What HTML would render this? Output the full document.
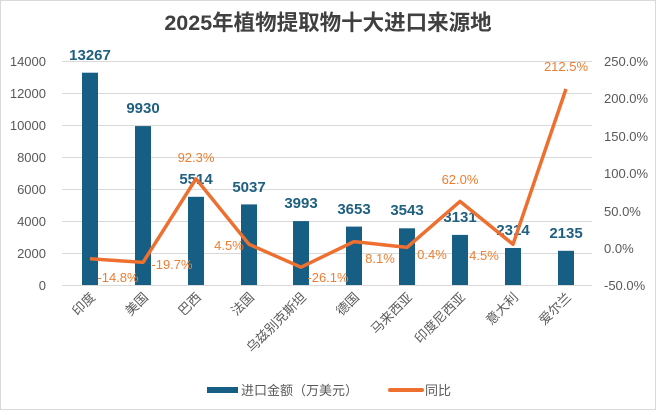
<!DOCTYPE html>
<html><head><meta charset="utf-8"><style>
html,body{margin:0;padding:0;background:#fff;}
svg text{font-family:"Liberation Sans","Noto Sans CJK SC",sans-serif;}
</style></head><body>
<svg width="656" height="410" viewBox="0 0 656 410" xmlns="http://www.w3.org/2000/svg">
<rect x="0.5" y="0.5" width="655" height="409" fill="#fff" stroke="#d9d9d9"/>
<text x="328" y="30" text-anchor="middle" font-size="21.5" font-weight="bold" fill="#404040">2025年植物提取物十大进口来源地</text>
<g stroke="#d9d9d9" stroke-width="1">
<line x1="62" x2="592" y1="61.5" y2="61.5"/><line x1="62" x2="592" y1="93.5" y2="93.5"/>
<line x1="62" x2="592" y1="125.5" y2="125.5"/><line x1="62" x2="592" y1="157.5" y2="157.5"/>
<line x1="62" x2="592" y1="189.5" y2="189.5"/><line x1="62" x2="592" y1="221.5" y2="221.5"/>
<line x1="62" x2="592" y1="253.5" y2="253.5"/><line x1="62" x2="592" y1="285.5" y2="285.5"/>
</g>
<g font-size="13" fill="#595959" text-anchor="end">
<text x="46" y="66">14000</text><text x="46" y="98">12000</text><text x="46" y="130">10000</text>
<text x="46" y="162">8000</text><text x="46" y="194">6000</text><text x="46" y="226">4000</text>
<text x="46" y="258">2000</text><text x="46" y="290">0</text>
</g>
<g font-size="13" fill="#595959" text-anchor="start">
<text x="604" y="66">250.0%</text><text x="604" y="103">200.0%</text><text x="604" y="141">150.0%</text>
<text x="604" y="178">100.0%</text><text x="604" y="216">50.0%</text><text x="604" y="253">0.0%</text>
<text x="604" y="290">-50.0%</text>
</g>
<g fill="#165e83">
<rect x="82" y="72.7" width="16" height="212.3"/><rect x="135" y="126.1" width="16" height="158.9"/>
<rect x="188" y="196.8" width="16" height="88.2"/><rect x="241" y="204.4" width="16" height="80.6"/>
<rect x="293" y="221.1" width="16" height="63.9"/><rect x="346" y="226.6" width="16" height="58.4"/>
<rect x="399" y="228.3" width="16" height="56.7"/><rect x="452" y="234.9" width="16" height="50.1"/>
<rect x="505" y="248" width="16" height="37"/><rect x="558" y="250.8" width="16" height="34.2"/>
</g>
<g font-size="15" font-weight="bold" fill="#1f5f80" text-anchor="middle">
<text x="90" y="60">13267</text><text x="143" y="113">9930</text><text x="196" y="184">5514</text>
<text x="249" y="192">5037</text><text x="301" y="208">3993</text><text x="354" y="214">3653</text>
<text x="407" y="215">3543</text><text x="460" y="222">3131</text><text x="513" y="235">2314</text>
<text x="566" y="238">2135</text>
</g>
<polyline fill="none" stroke="#ed7031" stroke-width="3.5" stroke-linejoin="round" points="90,258.7 143,262.4 196,178.8 249,244.3 301,267.2 354,241.6 407,247.4 460,201.4 513,244.3 566,89"/>
<g font-size="13" fill="#ed7d31" text-anchor="middle">
<text x="118" y="282">-14.8%</text><text x="172" y="269">-19.7%</text><text x="196" y="162">92.3%</text>
<text x="229" y="250">4.5%</text><text x="328" y="282">-26.1%</text><text x="380" y="263">8.1%</text>
<text x="432" y="259">0.4%</text><text x="460" y="184">62.0%</text><text x="484" y="260">4.5%</text>
<text x="566" y="71">212.5%</text>
</g>
<g font-size="13" fill="#595959" text-anchor="end">
<text transform="translate(96,298) rotate(-45)">印度</text>
<text transform="translate(149,298) rotate(-45)">美国</text>
<text transform="translate(202,298) rotate(-45)">巴西</text>
<text transform="translate(255,298) rotate(-45)">法国</text>
<text transform="translate(307,298) rotate(-45)">乌兹别克斯坦</text>
<text transform="translate(360,298) rotate(-45)">德国</text>
<text transform="translate(413,298) rotate(-45)">马来西亚</text>
<text transform="translate(466,298) rotate(-45)">印度尼西亚</text>
<text transform="translate(519,298) rotate(-45)">意大利</text>
<text transform="translate(572,298) rotate(-45)">爱尔兰</text>
</g>
<rect x="207" y="387" width="31" height="6" fill="#165e83"/>
<text x="241" y="395" font-size="13" fill="#595959">进口金额（万美元）</text>
<line x1="390" x2="422" y1="390" y2="390" stroke="#ed7031" stroke-width="4" stroke-linecap="round"/>
<text x="425" y="395" font-size="13" fill="#595959">同比</text>
</svg>
</body></html>
